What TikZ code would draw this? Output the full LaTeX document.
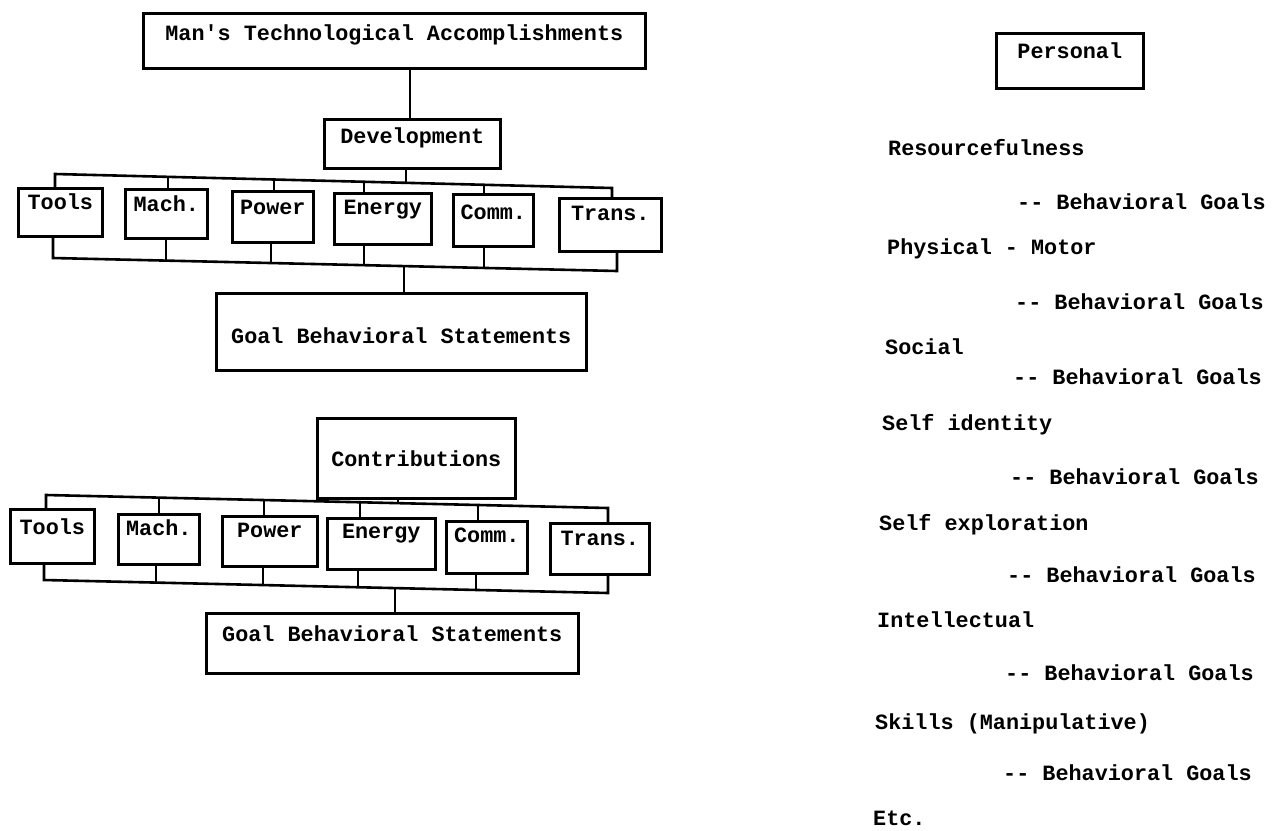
\documentclass[tikz,border=0pt]{standalone}
\usepackage{fontspec}
\setmonofont{Liberation Mono}
\newcommand\tw{\ttfamily\bfseries\fontsize{21.8}{26}\selectfont}
\tikzset{
  ln/.style={line width=2.6pt, line join=miter},
  bx/.style={draw, line width=2.6pt, inner sep=0pt, anchor=north west, font=\tw},
  tx/.style={anchor=base west, inner sep=0pt, font=\tw},
}
\begin{document}
\begin{tikzpicture}[x=1pt,y=-1pt]
\useasboundingbox (0,0) rectangle (1273,830);
% ---------- diagram 1 ----------
\node[bx, minimum width=502pt, text height=27pt, text depth=28pt] (title) at (142,12) {Man\textquotesingle s Technological Accomplishments};
\node[bx, minimum width=176pt, text height=24.5pt, text depth=24.5pt] (dev) at (323,118) {Development};
\node[bx, minimum width=84pt, text height=21.5pt, text depth=26.5pt] (ta) at (17,187) {Tools};
\node[bx, minimum width=82pt, text height=22.5pt, text depth=26.5pt] (tb) at (124,188) {Mach.};
\node[bx, minimum width=81pt, text height=23.5pt, text depth=27.5pt] (tc) at (231,190) {Power};
\node[bx, minimum width=97pt, text height=21.5pt, text depth=29.5pt] (td) at (333,192) {Energy};
\node[bx, minimum width=80pt, text height=25pt, text depth=27pt] (te) at (452,193) {Comm.};
\node[bx, minimum width=102pt, text height=22.5pt, text depth=30.5pt] (tf) at (558,197) {Trans.};
\node[bx, minimum width=370pt, text height=50.5pt, text depth=26.5pt] (goalA) at (215,292) {Goal Behavioral Statements};

\coordinate (d0) at (410,0);
\coordinate (a1) at (55,174);
\coordinate (a2) at (168,176.8);
\coordinate (a3) at (274,179.5);
\coordinate (a4) at (364,181.8);
\coordinate (a5) at (484,184.8);
\coordinate (a6) at (612,188);
\coordinate (ad) at (406,182.8);
\coordinate (b1) at (53,258);
\coordinate (b2) at (166,260.6);
\coordinate (b3) at (271,263);
\coordinate (b4) at (364,265.1);
\coordinate (b5) at (484,267.9);
\coordinate (b6) at (617,271);
\coordinate (bg) at (404,266);

\draw[ln] (title.south -| d0) -- (dev.north -| d0);
\draw[ln] (dev.south -| ad) -- (ad);
\draw[ln] (ta.north -| a1) -- (a1) -- (a6) -- (tf.north -| a6);
\draw[ln] (a2) -- (tb.north -| a2);
\draw[ln] (a3) -- (tc.north -| a3);
\draw[ln] (a4) -- (td.north -| a4);
\draw[ln] (a5) -- (te.north -| a5);
\draw[ln] (ta.south -| b1) -- (b1) -- (b6) -- (tf.south -| b6);
\draw[ln] (tb.south -| b2) -- (b2);
\draw[ln] (tc.south -| b3) -- (b3);
\draw[ln] (td.south -| b4) -- (b4);
\draw[ln] (te.south -| b5) -- (b5);
\draw[ln] (bg) -- (goalA.north -| bg);

% ---------- diagram 2 ----------
\node[bx, minimum width=198pt, text height=48.5pt, text depth=31.5pt] (contr) at (316,417) {Contributions};
\node[bx, minimum width=84pt, text height=25.5pt, text depth=28.5pt] (ua) at (9,508) {Tools};
\node[bx, minimum width=81pt, text height=21.5pt, text depth=28.5pt] (ub) at (117,513) {Mach.};
\node[bx, minimum width=95pt, text height=21.5pt, text depth=28.5pt] (uc) at (221,515) {Power};
\node[bx, minimum width=108pt, text height=20pt, text depth=31pt] (ud) at (326,517) {Energy};
\node[bx, minimum width=81pt, text height=21.5pt, text depth=30.5pt] (ue) at (445,520) {Comm.};
\node[bx, minimum width=99pt, text height=22.5pt, text depth=28.5pt] (uf) at (549,522) {Trans.};
\node[bx, minimum width=372pt, text height=28.5pt, text depth=31.5pt] (goalB) at (205,612) {Goal Behavioral Statements};

\coordinate (c1) at (46,495);
\coordinate (c2) at (159,497.6);
\coordinate (c3) at (264,499.8);
\coordinate (c4) at (360,502.1);
\coordinate (c5) at (478,504.8);
\coordinate (c6) at (608,508);
\coordinate (cc) at (398,503.1);
\coordinate (e1) at (44,580);
\coordinate (e2) at (156,582.6);
\coordinate (e3) at (263,584.8);
\coordinate (e4) at (358,587.2);
\coordinate (e5) at (476,590);
\coordinate (e6) at (608,593);
\coordinate (eg) at (395,587.9);

\draw[ln] (contr.south -| cc) -- (cc);
\draw[ln] (ua.north -| c1) -- (c1) -- (c6) -- (uf.north -| c6);
\draw[ln] (c2) -- (ub.north -| c2);
\draw[ln] (c3) -- (uc.north -| c3);
\draw[ln] (c4) -- (ud.north -| c4);
\draw[ln] (c5) -- (ue.north -| c5);
\draw[ln] (ua.south -| e1) -- (e1) -- (e6) -- (uf.south -| e6);
\draw[ln] (ub.south -| e2) -- (e2);
\draw[ln] (uc.south -| e3) -- (e3);
\draw[ln] (ud.south -| e4) -- (e4);
\draw[ln] (ue.south -| e5) -- (e5);
\draw[ln] (eg) -- (goalB.north -| eg);

% ---------- right column ----------
\node[bx, minimum width=147pt, text height=25.5pt, text depth=29.5pt] (pers) at (995,32) {Personal};
\node[tx] (r1) at (888,155) {Resourcefulness};
\node[tx] (r2) at (1017,209) {-{}- Behavioral Goals};
\node[tx] (r3) at (887,254) {Physical - Motor};
\node[tx] (r4) at (1015,309) {-{}- Behavioral Goals};
\node[tx] (r5) at (885,354) {Social};
\node[tx] (r6) at (1013,384) {-{}- Behavioral Goals};
\node[tx] (r7) at (882,430) {Self identity};
\node[tx] (r8) at (1010,484) {-{}- Behavioral Goals};
\node[tx] (r9) at (879,530) {Self exploration};
\node[tx] (r10) at (1007,582) {-{}- Behavioral Goals};
\node[tx] (r11) at (877,627) {Intellectual};
\node[tx] (r12) at (1005,680) {-{}- Behavioral Goals};
\node[tx] (r13) at (875,729) {Skills (Manipulative)};
\node[tx] (r14) at (1003,780) {-{}- Behavioral Goals};
\node[tx] (r15) at (873,825) {Etc.};
\end{tikzpicture}
\end{document}
